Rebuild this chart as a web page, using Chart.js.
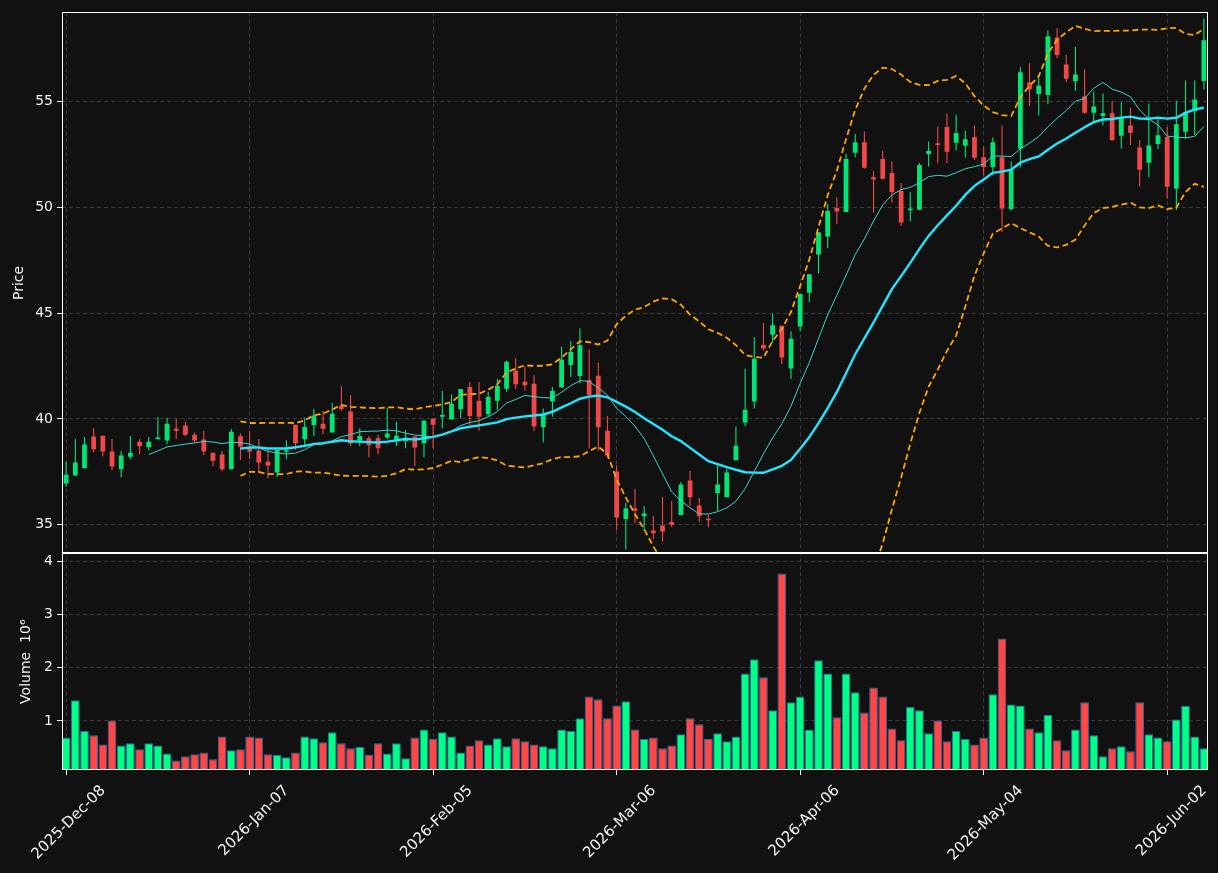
<!DOCTYPE html>
<html>
<head>
<meta charset="utf-8">
<script src="https://cdn.jsdelivr.net/npm/chart.js@4.4.1/dist/chart.umd.min.js"></script>
<style>
  html, body { margin: 0; padding: 0; background: #111111; }
  #wrap { width: 1218px; height: 873px; }
</style>
</head>
<body>
<div id="wrap"><canvas id="myChart" width="1218" height="873"></canvas></div>
<script>
// candle data (one entry per trading day)
const opens = [
  36.95, 37.33, 37.67, 39.17, 39.21, 38.46, 37.63, 38.22, 38.93, 38.66,
  39.04, 38.98, 39.54, 39.69, 39.26, 39.03, 38.41, 38.32, 37.63, 39.18,
  38.62, 38.51, 37.98, 37.47, 38.45, 39.73, 39.04, 39.70, 39.78, 39.36,
  40.63, 40.35, 38.98, 39.09, 39.09, 39.12, 38.95, 38.96, 39.17, 38.85,
  40.02, 40.11, 39.98, 40.46, 41.51, 40.86, 40.22, 40.86, 41.43, 42.28,
  41.76, 41.67, 39.61, 40.83, 41.49, 42.55, 42.03, 41.84, 42.04, 39.45,
  37.52, 35.27, 35.77, 35.41, 34.73, 34.97, 35.13, 35.46, 37.09, 35.91,
  35.29, 36.49, 36.30, 38.05, 39.84, 40.83, 43.50, 43.98, 44.40, 42.39,
  44.37, 45.97, 47.77, 48.62, 49.97, 49.78, 52.58, 53.08, 51.42, 52.28,
  51.62, 50.77, 49.86, 49.89, 52.52, 53.03, 53.79, 53.05, 52.91, 53.32,
  52.37, 51.90, 52.37, 49.92, 52.77, 55.91, 55.36, 55.31, 58.03, 56.75,
  55.96, 55.25, 54.47, 54.32, 54.45, 53.38, 53.87, 52.83, 52.11, 52.99,
  53.32, 50.88, 53.57, 54.54, 55.97
];
const highs = [
  37.99, 39.06, 39.15, 39.58, 39.21, 39.06, 38.49, 39.20, 39.06, 39.15,
  40.09, 40.06, 40.00, 39.87, 39.36, 39.45, 38.41, 38.49, 39.53, 39.32,
  39.43, 39.06, 38.62, 38.55, 39.00, 39.73, 40.06, 40.47, 40.38, 40.75,
  41.56, 41.13, 39.56, 39.20, 39.25, 40.53, 39.87, 39.48, 39.17, 39.95,
  40.02, 41.32, 41.16, 41.42, 41.75, 41.75, 41.29, 41.89, 42.75, 42.88,
  42.47, 42.08, 40.50, 41.51, 43.41, 43.68, 44.29, 43.30, 42.67, 40.14,
  37.80, 36.04, 36.70, 35.89, 35.42, 36.32, 36.13, 37.02, 37.56, 36.27,
  35.47, 37.80, 37.65, 39.65, 42.37, 43.87, 44.53, 45.00, 44.40, 44.15,
  45.90, 46.84, 48.82, 50.17, 50.46, 52.53, 53.47, 53.58, 51.70, 52.69,
  52.17, 51.15, 50.71, 52.09, 53.11, 53.82, 54.43, 54.38, 53.63, 53.87,
  52.88, 53.30, 53.87, 52.15, 56.62, 56.81, 56.22, 58.35, 58.46, 57.21,
  57.59, 56.51, 55.47, 55.38, 55.00, 54.95, 54.70, 53.17, 54.89, 54.24,
  53.79, 55.03, 55.99, 55.99, 58.93
];
const lows = [
  36.79, 37.30, 37.67, 38.43, 38.24, 37.58, 37.25, 38.10, 38.33, 38.52,
  39.04, 38.82, 39.06, 39.18, 38.90, 38.30, 37.77, 37.53, 37.63, 38.06,
  38.11, 37.44, 37.20, 37.26, 38.10, 38.54, 38.77, 39.20, 39.28, 39.36,
  40.38, 38.73, 38.73, 38.19, 38.33, 39.06, 38.73, 38.62, 37.77, 38.19,
  38.62, 39.56, 39.98, 40.03, 39.72, 39.43, 40.11, 40.42, 41.29, 41.42,
  41.35, 39.43, 38.90, 40.11, 41.49, 41.98, 41.68, 38.62, 38.50, 38.14,
  34.76, 33.82, 35.08, 34.71, 34.33, 34.21, 34.90, 35.46, 35.90, 35.15,
  34.90, 35.65, 36.30, 38.05, 39.65, 40.50, 43.22, 43.61, 42.59, 41.89,
  44.15, 45.52, 46.89, 48.07, 49.20, 49.78, 52.37, 51.82, 49.75, 51.32,
  50.22, 49.12, 49.34, 49.89, 51.93, 52.08, 52.10, 52.68, 52.34, 52.25,
  51.50, 51.50, 48.84, 49.84, 51.89, 54.80, 54.34, 54.87, 57.04, 55.91,
  55.50, 54.42, 54.04, 53.87, 53.14, 52.78, 52.94, 50.99, 51.42, 52.76,
  50.41, 49.86, 53.24, 53.40, 55.57
];
const closes = [
  37.37, 37.94, 38.79, 38.57, 38.46, 37.75, 38.27, 38.41, 38.71, 38.93,
  39.12, 39.78, 39.45, 39.26, 38.98, 38.47, 38.03, 37.63, 39.40, 38.69,
  38.46, 37.94, 37.80, 38.55, 38.52, 38.85, 39.62, 40.16, 39.54, 40.25,
  40.47, 38.84, 39.20, 38.76, 38.62, 39.31, 39.21, 39.10, 38.65, 39.92,
  39.73, 40.19, 40.72, 41.42, 40.14, 40.11, 41.04, 41.57, 42.70, 41.64,
  41.59, 39.64, 40.22, 41.32, 42.80, 43.18, 43.49, 41.13, 39.61, 38.27,
  35.35, 35.77, 35.66, 35.53, 34.60, 34.69, 35.00, 36.90, 36.30, 35.41,
  35.22, 36.90, 37.47, 38.74, 40.44, 42.85, 43.33, 44.43, 42.91, 43.79,
  45.90, 46.84, 48.82, 49.83, 49.80, 52.28, 53.08, 51.87, 51.32, 51.35,
  50.72, 49.28, 49.94, 52.00, 52.66, 52.94, 52.63, 53.51, 53.22, 52.34,
  51.90, 53.08, 49.94, 51.76, 56.38, 55.58, 55.75, 58.08, 57.20, 56.07,
  56.28, 54.47, 54.76, 54.45, 53.18, 54.23, 53.52, 51.78, 52.92, 53.40,
  50.97, 53.93, 54.50, 55.09, 57.89
];
// volume in millions
const volumes = [
  0.69, 1.39, 0.81, 0.73, 0.56, 1.01, 0.54, 0.58, 0.47, 0.58,
  0.54, 0.39, 0.26, 0.34, 0.375, 0.41, 0.28, 0.71, 0.45, 0.47,
  0.71, 0.69, 0.375, 0.36, 0.32, 0.41, 0.71, 0.675, 0.60, 0.79,
  0.58, 0.49, 0.51, 0.36, 0.58, 0.39, 0.58, 0.30, 0.69, 0.84,
  0.66, 0.79, 0.71, 0.41, 0.54, 0.64, 0.56, 0.675, 0.525, 0.675,
  0.62, 0.56, 0.525, 0.49, 0.84, 0.81, 1.05, 1.46, 1.41, 1.05,
  1.29, 1.37, 0.84, 0.66, 0.69, 0.49, 0.54, 0.75, 1.05, 0.94,
  0.66, 0.77, 0.62, 0.71, 1.89, 2.16, 1.82, 1.20, 3.77, 1.35,
  1.46, 0.84, 2.14, 1.89, 1.07, 1.89, 1.54, 1.16, 1.63, 1.46,
  0.86, 0.64, 1.26, 1.20, 0.77, 1.01, 0.62, 0.81, 0.66, 0.56,
  0.69, 1.50, 2.55, 1.31, 1.29, 0.86, 0.79, 1.11, 0.64, 0.45,
  0.84, 1.35, 0.73, 0.34, 0.49, 0.525, 0.43, 1.35, 0.75, 0.69,
  0.62, 1.03, 1.28, 0.71, 0.49
];

const tickPositions = [0, 20, 40, 60, 80, 100, 120];
const tickLabels = ['2025-Dec-08', '2026-Jan-07', '2026-Feb-05', '2026-Mar-06', '2026-Apr-06', '2026-May-04', '2026-Jun-02'];
const priceTicks = [35, 40, 45, 50, 55];
const volumeTicks = [1, 2, 3, 4];

const upColor = '#00e676', downColor = '#f04848';
const volUp = '#00ff85', volDown = '#ff4747';
const gridColor = '#3a3a3a';
const textColor = '#f2f2f2';
const font = { family: 'DejaVu Sans', size: 14 };
const xFont = { family: 'DejaVu Sans', size: 15 };

// indicators (moving averages / bollinger) from the closes
function movingAvg(vals, n) {
    return vals.map((v, i) => {
        if (i < n - 1) return null;
        let s = 0;
        for (let k = i - n + 1; k <= i; k++) s += vals[k];
        return s / n;
    });
}
function rollingStd(vals, n) {
    const ma = movingAvg(vals, n);
    return vals.map((v, i) => {
        if (ma[i] === null) return null;
        let s = 0;
        for (let k = i - n + 1; k <= i; k++) s += (vals[k] - ma[i]) ** 2;
        return Math.sqrt(s / (n - 1));
    });
}
const ma10 = movingAvg(closes, 10);
const ma20 = movingAvg(closes, 20);
const sd20 = rollingStd(closes, 20);
const upper = ma20.map((m, i) => m === null ? null : m + 2 * sd20[i]);
const lower = ma20.map((m, i) => m === null ? null : m - 2 * sd20[i]);

const idx = closes.map((c, i) => i);
const isUp = idx.map(i => closes[i] >= opens[i]);
const pts = arr => arr.map((v, i) => ({ x: i, y: v }));

const panels = {
    id: 'panels',
    beforeDraw(chart) {
        const ctx = chart.ctx;
        ctx.save();
        ctx.fillStyle = '#111111';
        ctx.fillRect(0, 0, chart.width, chart.height);
        ctx.restore();
    },
    beforeDatasetDraw(chart, args) {
        const ds = chart.data.datasets[args.index];
        const s = chart.scales[ds.yAxisID];
        const a = chart.chartArea;
        const ctx = chart.ctx;
        ctx.save();
        ctx.beginPath();
        ctx.rect(a.left, s.top, a.right - a.left, s.bottom - s.top);
        ctx.clip();
    },
    afterDatasetDraw(chart) {
        chart.ctx.restore();
    },
    afterDraw(chart) {
        const { ctx, chartArea } = chart;
        ctx.save();
        ctx.strokeStyle = '#ffffff';
        ctx.lineWidth = 1;
        ['y', 'yv'].forEach(id => {
            const s = chart.scales[id];
            ctx.strokeRect(Math.round(chartArea.left) + 0.5, Math.round(s.top) + 0.5,
                Math.round(chartArea.right - chartArea.left) - 1, Math.round(s.bottom - s.top) - 1);
        });
        ctx.restore();
    }
};

const ctx = document.getElementById('myChart').getContext('2d');
new Chart(ctx, {
    type: 'bar',
    data: {
        datasets: [
            {
                type: 'line', label: 'MA10', data: pts(ma10), yAxisID: 'y',
                borderColor: '#3fd3cc', borderWidth: 1, pointRadius: 0, order: 0
            },
            {
                type: 'line', label: 'MA20', data: pts(ma20), yAxisID: 'y',
                borderColor: '#1ee8ff', borderWidth: 2.4, pointRadius: 0, order: 0
            },
            {
                type: 'line', label: 'Upper', data: pts(upper), yAxisID: 'y',
                borderColor: '#ffa500', borderWidth: 1.8, borderDash: [6, 3.5], pointRadius: 0, order: 0
            },
            {
                type: 'line', label: 'Lower', data: pts(lower), yAxisID: 'y',
                borderColor: '#ffa500', borderWidth: 1.8, borderDash: [6, 3.5], pointRadius: 0, order: 0
            },
            {
                label: 'Body', data: idx.map(i => ({ x: i, y: [opens[i], closes[i]] })), yAxisID: 'y',
                backgroundColor: idx.map(i => isUp[i] ? upColor : downColor),
                grouped: false, categoryPercentage: 1, barPercentage: 0.52, minBarLength: 1, order: 1
            },
            {
                label: 'Wick', data: idx.map(i => ({ x: i, y: [lows[i], highs[i]] })), yAxisID: 'y',
                backgroundColor: idx.map(i => isUp[i] ? upColor : downColor),
                grouped: false, categoryPercentage: 1, barPercentage: 0.12, maxBarThickness: 1.2, order: 2
            },
            {
                label: 'Volume', data: idx.map(i => ({ x: i, y: volumes[i] })), yAxisID: 'yv',
                backgroundColor: idx.map(i => isUp[i] ? volUp : volDown),
                borderColor: '#2370b0', borderWidth: 1, borderSkipped: false,
                grouped: false, categoryPercentage: 1, barPercentage: 0.95, order: 3
            }
        ]
    },
    options: {
        responsive: false,
        animation: false,
        devicePixelRatio: 1,
        layout: { padding: { top: 10, right: 10, left: 0, bottom: 0 } },
        plugins: { legend: { display: false }, tooltip: { enabled: false } },
        scales: {
            x: {
                type: 'linear', position: 'bottom', min: -0.45, max: 124.45, offset: false,
                afterBuildTicks: s => { s.ticks = tickPositions.map(v => ({ value: v })); },
                afterFit: s => { s.height = 103; s.paddingLeft = 0; s.paddingRight = 0; },
                grid: { offset: false, color: gridColor, tickColor: '#ffffff', tickLength: 5 },
                border: { display: false, dash: [4, 3] },
                ticks: {
                    color: textColor, font: xFont, autoSkip: false,
                    maxRotation: 45, minRotation: 45, labelOffset: 37, padding: 7,
                    callback: (v, i) => tickLabels[i]
                }
            },
            yv: {
                type: 'linear', position: 'left', stack: 'panes', stackWeight: 217,
                min: 0.08, max: 4.145,
                afterBuildTicks: s => { s.ticks = volumeTicks.map(v => ({ value: v })); },
                afterFit: s => { s.width = 62; },
                grid: { color: gridColor, tickColor: '#ffffff', tickLength: 5 },
                border: { display: false, dash: [4, 3] },
                ticks: { color: textColor, font: font, padding: 4 },
                title: { display: true, text: 'Volume  10\u2076', color: textColor, font: font, padding: { top: 18, bottom: 0 } }
            },
            y: {
                type: 'linear', position: 'left', stack: 'panes', stackWeight: 542,
                min: 33.65, max: 59.21,
                afterBuildTicks: s => { s.ticks = priceTicks.map(v => ({ value: v })); },
                afterFit: s => { s.width = 62; },
                grid: { color: gridColor, tickColor: '#ffffff', tickLength: 5 },
                border: { display: false, dash: [4, 3] },
                ticks: { color: textColor, font: font, padding: 4 },
                title: { display: true, text: 'Price', color: textColor, font: font, padding: { top: 11, bottom: 0 } }
            }
        }
    },
    plugins: [panels]
});
</script>
</body>
</html>
